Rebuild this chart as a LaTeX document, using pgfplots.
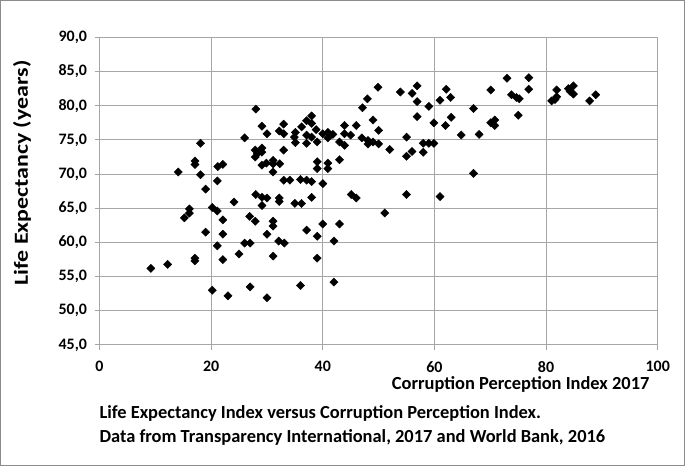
\documentclass[border=0pt]{standalone}
\usepackage{fontspec}
\setmainfont{Carlito}
\usepackage{pgfplots}
\pgfplotsset{compat=1.18}
\pgfplotstableread{
x y
9.2 56.2
12.2 56.8
14.1 70.3
15.2 63.6
16.1 64.9
16.1 64.3
17.1 57.7
17.1 57.3
17.1 71.9
17.1 71.4
18.1 74.5
18.1 69.9
19.0 67.8
19.0 61.5
20.2 65.1
20.2 53.0
21.1 64.6
21.1 69.0
21.2 71.1
22.1 71.4
21.1 59.5
22.1 63.3
22.1 61.2
22.1 57.5
23.0 52.2
24.1 65.9
25.0 58.3
26.0 75.3
26.0 59.9
27.0 59.9
26.9 63.8
27.9 63.1
27.0 53.5
28.0 79.5
29.1 77.0
30.0 75.9
27.9 73.5
29.1 73.8
28.3 73.0
29.1 73.2
27.9 72.5
28.0 67.0
29.1 66.6
30.0 66.5
29.1 65.4
29.1 71.3
29.9 71.6
31.1 72.0
31.1 71.5
32.3 71.5
31.1 70.3
30.0 61.2
30.0 51.9
31.1 63.1
31.1 62.4
31.1 58.0
32.2 66.5
32.2 66.0
32.1 60.2
33.1 59.9
33.0 77.3
32.2 76.3
33.0 75.9
33.0 73.5
33.0 69.1
34.1 69.1
36.0 69.2
37.1 69.1
38.0 68.9
40.0 68.6
35.0 65.7
36.2 65.7
35.1 76.1
34.9 75.4
35.1 74.6
36.2 76.9
37.1 77.8
38.0 78.5
38.0 77.4
38.8 76.5
37.1 75.7
38.0 75.4
37.1 74.5
39.0 74.7
40.0 75.9
40.9 76.1
40.9 75.3
41.8 75.8
39.0 71.8
39.0 70.8
40.9 71.6
40.9 70.8
38.0 66.6
37.1 61.8
39.0 60.9
40.0 62.7
43.0 62.7
42.0 60.2
39.0 57.7
36.0 53.7
42.0 54.2
43.0 72.1
43.0 74.7
43.9 74.2
43.9 77.1
46.0 77.1
45.0 75.7
43.9 75.9
45.1 67.0
46.0 66.5
47.1 79.7
48.0 81.0
49.9 82.7
49.0 77.9
50.0 76.4
47.0 75.3
48.1 74.9
48.1 74.4
49.0 74.7
50.0 74.4
52.0 73.6
51.1 64.3
53.9 82.0
56.0 81.8
56.9 82.9
56.9 80.6
56.9 78.4
55.0 75.4
55.0 72.6
56.0 73.3
58.0 74.5
58.0 73.2
59.0 74.5
59.9 74.5
59.0 79.9
59.9 77.5
61.0 80.8
62.1 82.4
62.9 81.2
62.0 77.1
63.0 78.3
64.8 75.7
55.0 67.0
61.0 66.7
67.0 79.6
68.0 75.8
67.0 70.1
70.1 82.3
70.1 77.5
70.8 77.9
70.8 77.1
73.0 84.0
73.8 81.6
74.7 81.2
75.2 81.0
75.0 78.6
76.9 84.1
76.9 82.4
81.0 80.7
81.6 80.9
81.9 81.3
81.9 82.3
84.0 82.5
84.3 82.1
84.9 82.9
84.9 81.7
87.8 80.7
88.9 81.6
}\datatable
\begin{document}
\begin{tikzpicture}
\useasboundingbox (0bp,0bp) rectangle (685bp,466bp);
\draw[black!45, line width=1.2bp] (0.6bp,0.6bp) rectangle (684.4bp,465.4bp);
\begin{axis}[
  at={(99.5bp,121bp)}, anchor=south west,
  scale only axis, width=558.2bp, height=307.7bp,
  xmin=0, xmax=100, ymin=45, ymax=90,
  xtick={0,20,...,100}, ytick={45,50,...,90},
  grid=major, grid style={black!35, line width=1bp},
  axis line style={black!35, line width=1bp},
  tick style={black!35, line width=1bp},
  tick align=outside, major tick length=5bp,
  xtick pos=bottom, ytick pos=left,
  tick label style={font=\bfseries\fontsize{16}{18}\selectfont, text=black},
  xticklabel style={yshift=-8bp},
  yticklabel style={xshift=-4bp},
  /pgf/number format/assume math mode=true,
  yticklabel style={/pgf/number format/.cd, fixed, fixed zerofill, precision=1, use comma},
  xticklabel style={/pgf/number format/.cd, fixed, precision=0},
]
\addplot[only marks, mark=square*, mark size=2.9bp, mark options={rotate=45, fill=black, draw=black}] table[x=x, y=y] {\datatable};
\end{axis}
\node[rotate=90, font=\bfseries\fontsize{20}{23}\selectfont] at (22bp,293bp) {\scalebox{1.2}[1]{Life Expectancy (years)}};
\node[anchor=east, font=\bfseries\fontsize{18.5}{21}\selectfont] at (653bp,82bp) {Corruption Perception Index 2017};
\node[anchor=west, font=\bfseries\fontsize{18.5}{21}\selectfont] at (96bp,53bp) {Life Expectancy Index versus Corruption Perception Index.};
\node[anchor=west, font=\bfseries\fontsize{18.5}{21}\selectfont] at (96bp,29bp) {Data from Transparency International, 2017 and World Bank, 2016};
\end{tikzpicture}
\end{document}
